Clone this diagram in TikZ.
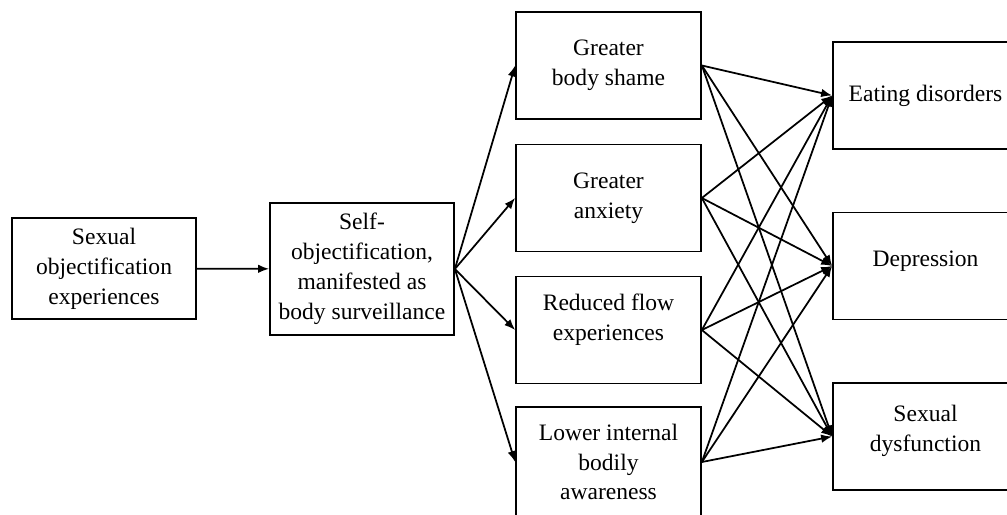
\documentclass[tikz,border=0pt]{standalone}
\usepackage{fontspec}
\setmainfont{Liberation Serif}
\usetikzlibrary{arrows.meta}
\begin{document}
\begin{tikzpicture}[x=0.02cm,y=-0.02cm,
  box/.style={draw,line width=1pt,align=center,minimum width=3.7cm,minimum height=2.14cm,inner sep=2pt,font=\fontsize{13.4}{17}\selectfont},
  >={Latex[length=2.2mm,width=1.7mm]}]
\useasboundingbox (0,0) rectangle (1007,514);
\node[box,minimum width=3.68cm,minimum height=2.02cm] (sexobj) at (104,268.5) {Sexual\\objectification\\experiences};
\node[box,minimum width=3.68cm,minimum height=2.64cm] (selfobj) at (362,269) {Self-\\objectification,\\manifested as\\body surveillance};
\node[box] (shame) at (608.5,65.5) {Greater\\body shame};
\node[box] (anxiety) at (608.5,198) {Greater\\anxiety};
\node[box,text depth=0.5cm] (flow) at (608.5,330) {Reduced flow\\experiences};
\node[box,minimum height=2.2cm] (aware) at (608.5,462) {Lower internal\\bodily\\awareness};
\node[box] (eating) at (925.5,95.5) {Eating disorders};
\node[box,text depth=0.3cm] (depress) at (925.5,266) {Depression};
\node[box,text depth=0.34cm] (sexdys) at (925.5,436.5) {Sexual\\dysfunction};
\path[draw,line width=1pt,->] (sexobj) -- (selfobj);
\foreach \m in {shame,anxiety,flow,aware}
  \path[draw,line width=1pt,->] (selfobj.east) -- (\m.west);
\foreach \m in {shame,anxiety,flow,aware}
  \foreach \o in {eating,depress,sexdys}
    \path[draw,line width=1pt,->] (\m.east) -- (\o.west);
\end{tikzpicture}
\end{document}
